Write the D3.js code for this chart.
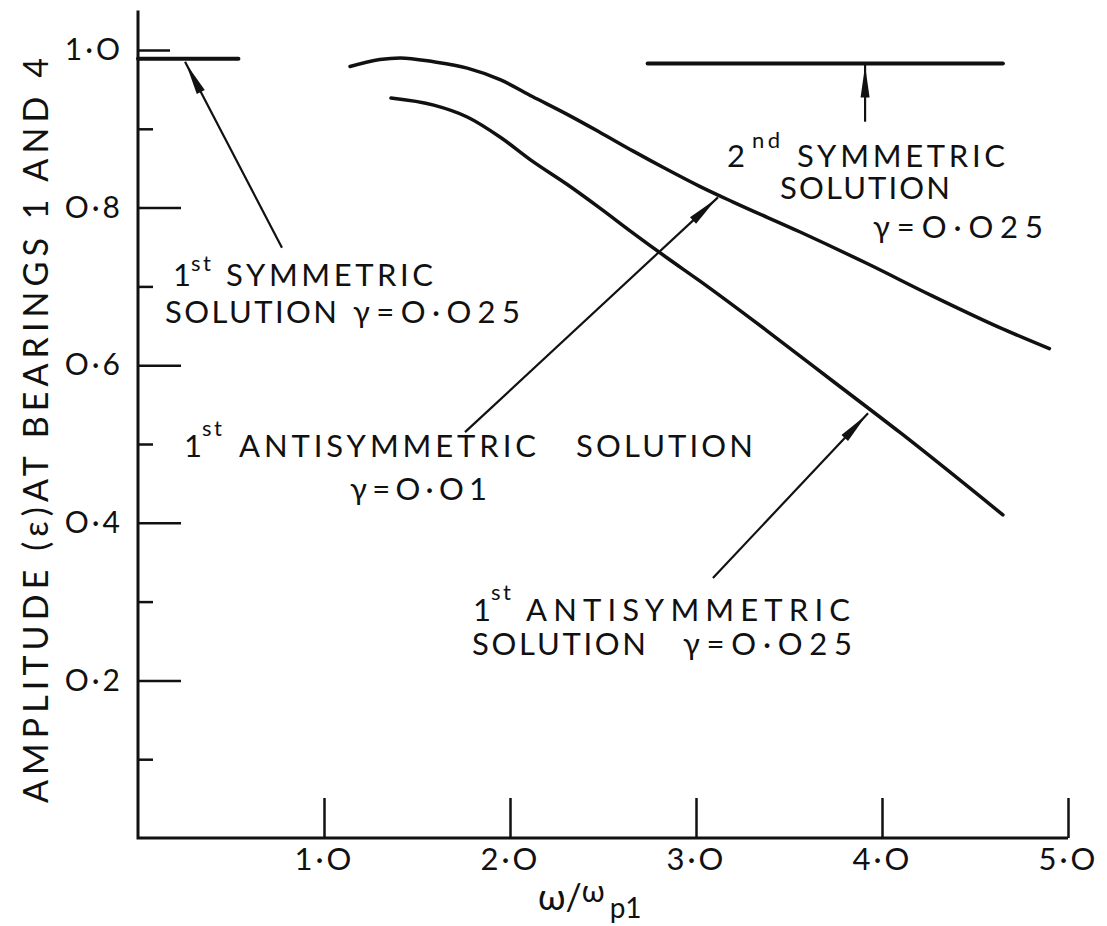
<!DOCTYPE html>
<html>
<head>
<meta charset="utf-8">
<script src="https://cdn.jsdelivr.net/npm/d3@7"></script>
<style>
  html, body { margin: 0; padding: 0; background: #fff; }
  svg { display: block; }
  text { font-family: Lato, "DejaVu Sans", sans-serif; fill: #111; }
</style>
</head>
<body>
<svg id="chart" width="1107" height="926"></svg>
<script>
// Axis ticks
const xTicks = [1, 2, 3, 4, 5];
const yMajorTicks = [0.2, 0.4, 0.6, 0.8, 1.0];
const yMinorTicks = [0.1, 0.3, 0.5, 0.7, 0.9];

// 1st symmetric solution, gamma = 0.025 (flat response)
const sym1X = [0, 0.54];
const sym1Y = [0.989, 0.989];

// 2nd symmetric solution, gamma = 0.025 (flat response)
const sym2X = [2.74, 4.65];
const sym2Y = [0.983, 0.983];

// 1st antisymmetric solution, gamma = 0.01
const anti01X = [1.14, 1.30, 1.41, 1.59, 1.77, 1.95, 2.12, 2.31, 2.48, 2.66, 2.84, 3.02, 3.20, 3.56, 3.92, 4.27, 4.63, 4.90];
const anti01Y = [0.979, 0.988, 0.990, 0.985, 0.977, 0.962, 0.941, 0.918, 0.896, 0.872, 0.849, 0.827, 0.807, 0.769, 0.729, 0.688, 0.648, 0.621];

// 1st antisymmetric solution, gamma = 0.025
const anti025X = [1.36, 1.59, 1.77, 1.95, 2.12, 2.31, 2.48, 2.66, 2.84, 3.02, 3.38, 3.74, 4.10, 4.65];
const anti025Y = [0.939, 0.930, 0.915, 0.889, 0.859, 0.829, 0.800, 0.768, 0.737, 0.707, 0.644, 0.579, 0.514, 0.410];

const svg = d3.select("#chart");
const x = d3.scaleLinear().domain([0, 5]).range([138, 1068]);
const y = d3.scaleLinear().domain([0, 1]).range([838, 50]);

const fmt = d => d.toFixed(1).replace(".", "·").replace(/0/g, "O");

// Axis lines
svg.append("path")
  .attr("d", `M${x(0)},${y(1.05)}V${y(0)}H${x(5)}`)
  .attr("fill", "none").attr("stroke", "#111").attr("stroke-width", 3)
  .attr("stroke-linejoin", "miter");

// Y ticks (drawn inward) with labels on the left
const gyMajor = svg.append("g").attr("transform", `translate(${x(0)},0)`)
  .call(d3.axisLeft(y).tickValues(yMajorTicks).tickSize(-43).tickSizeOuter(0).tickPadding(15).tickFormat(fmt));
gyMajor.select(".domain").remove();
gyMajor.selectAll(".tick line").attr("stroke", "#111").attr("stroke-width", 2.5)
  .filter(d => d === 1).attr("x2", 32);
gyMajor.selectAll(".tick text").attr("font-size", 30).attr("letter-spacing", 3)
  .attr("font-family", "Lato, sans-serif").attr("fill", "#111");

const gyMinor = svg.append("g").attr("transform", `translate(${x(0)},0)`)
  .call(d3.axisLeft(y).tickValues(yMinorTicks).tickSize(-15).tickSizeOuter(0).tickFormat(""));
gyMinor.select(".domain").remove();
gyMinor.selectAll(".tick line").attr("stroke", "#111").attr("stroke-width", 2.5);

// X ticks (drawn upward) with labels below
const gx = svg.append("g").attr("transform", `translate(0,${y(0)})`)
  .call(d3.axisBottom(x).tickValues(xTicks).tickSize(-40).tickSizeOuter(0).tickPadding(10).tickFormat(fmt));
gx.select(".domain").remove();
gx.selectAll(".tick line").attr("stroke", "#111").attr("stroke-width", 2.5);
gx.selectAll(".tick text").attr("font-size", 31).attr("letter-spacing", 3)
  .attr("font-family", "Lato, sans-serif").attr("fill", "#111");

// Response curves
const line = d3.line().x(d => x(d[0])).y(d => y(d[1])).curve(d3.curveMonotoneX);
const zipXY = (xs, ys) => xs.map((v, i) => [v, ys[i]]);

[[sym1X, sym1Y, 4], [sym2X, sym2Y, 4], [anti01X, anti01Y, 3.5], [anti025X, anti025Y, 3.5]]
  .forEach(([xs, ys, w]) => {
    svg.append("path").attr("d", line(zipXY(xs, ys)))
      .attr("fill", "none").attr("stroke", "#111").attr("stroke-width", w)
      .attr("stroke-linecap", "round");
  });

// Leader arrows, tail -> tip, in data coordinates
const arrows = [
  { from: [0.774, 0.749], to: [0.253, 0.985] },
  { from: [1.758, 0.515], to: [3.118, 0.813] },
  { from: [3.091, 0.330], to: [3.925, 0.539] },
  { from: [3.909, 0.909], to: [3.909, 0.983] }
];
arrows.forEach(a => {
  const x0 = x(a.from[0]), y0 = y(a.from[1]);
  const x1 = x(a.to[0]), y1 = y(a.to[1]);
  svg.append("line").attr("x1", x0).attr("y1", y0).attr("x2", x1).attr("y2", y1)
    .attr("stroke", "#111").attr("stroke-width", 2.2);
  const len = Math.hypot(x1 - x0, y1 - y0);
  const ux = (x1 - x0) / len, uy = (y1 - y0) / len;
  const bx = x1 - ux * 34, by = y1 - uy * 34;
  const hw = 4.5;
  svg.append("path")
    .attr("d", `M${x1 - ux * 2},${y1 - uy * 2}L${bx - uy * hw},${by + ux * hw}L${bx + uy * hw},${by - ux * hw}Z`)
    .attr("fill", "#111");
});

// Curve annotations
const notes = [
  { x: 173, y: 286, t: "1" },
  { x: 191, y: 271, t: "st", s: 22, w: 20 },
  { x: 226, y: 286, t: "SYMMETRIC", w: 207 },
  { x: 165, y: 323, t: "SOLUTION", w: 172 },
  { x: 353, y: 323, t: "γ=O·O25", w: 167 },

  { x: 727, y: 167, t: "2" },
  { x: 752, y: 148, t: "nd", s: 22, w: 28 },
  { x: 797, y: 167, t: "SYMMETRIC", w: 208 },
  { x: 780, y: 199, t: "SOLUTION", w: 170 },
  { x: 873, y: 238, t: "γ=O·O25", w: 170 },

  { x: 184, y: 457, t: "1" },
  { x: 202, y: 436, t: "st", s: 22, w: 20 },
  { x: 239, y: 457, t: "ANTISYMMETRIC", w: 297 },
  { x: 576, y: 457, t: "SOLUTION", w: 177 },
  { x: 350, y: 500, t: "γ=O·O1", w: 137 },

  { x: 473, y: 621, t: "1" },
  { x: 491, y: 600, t: "st", s: 22, w: 20 },
  { x: 526, y: 621, t: "ANTISYMMETRIC", w: 324 },
  { x: 472, y: 655, t: "SOLUTION", w: 174 },
  { x: 683, y: 655, t: "γ=O·O25", w: 169 }
];
notes.forEach(n => {
  const t = svg.append("text").attr("x", n.x).attr("y", n.y)
    .attr("font-size", n.s || 31).text(n.t);
  if (n.w) t.attr("textLength", n.w).attr("lengthAdjust", "spacing");
});

// Axis titles
svg.append("text")
  .attr("transform", `translate(48,803) rotate(-90)`)
  .attr("font-size", 34)
  .attr("textLength", 745).attr("lengthAdjust", "spacing")
  .text("AMPLITUDE (ε)AT BEARINGS  1 AND 4");

const xt = svg.append("text").attr("x", 538).attr("y", 910).attr("font-size", 36);
xt.append("tspan").text("ω/");
xt.append("tspan").attr("font-size", 30).attr("dy", -8).text("ω");
xt.append("tspan").attr("font-size", 28).attr("dx", 5).attr("dy", 16).text("p1");
</script>
</body>
</html>
